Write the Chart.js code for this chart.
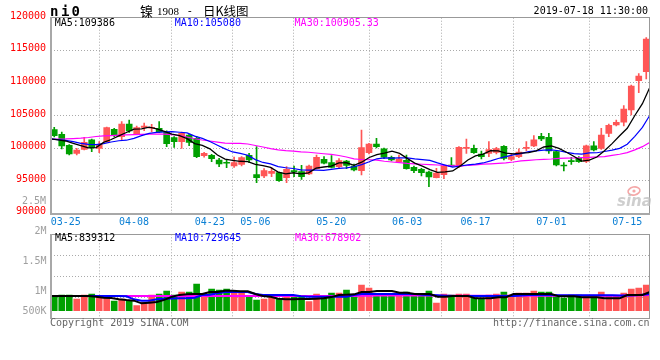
<!DOCTYPE html>
<html><head><meta charset="utf-8">
<script src="https://cdn.jsdelivr.net/npm/chart.js@4"></script>
<style>
html,body{margin:0;padding:0;background:#fff;}
#wrap{position:relative;width:660px;height:360px;overflow:hidden;}
canvas{position:absolute;left:0;top:0;}
</style></head><body>
<div id="wrap"><canvas id="c1" width="660" height="360"></canvas><canvas id="c2" width="660" height="360"></canvas></div>
<script>
// ---------- data ----------
const dates = ["03-21","03-22","03-25","03-26","03-27","03-28","03-29","04-01","04-02","04-03","04-04","04-08","04-09","04-10","04-11","04-12","04-15","04-16","04-17","04-18","04-22","04-23","04-24","04-25","04-26","04-29","04-30","05-06","05-07","05-08","05-09","05-10","05-13","05-14","05-15","05-16","05-17","05-20","05-21","05-22","05-23","05-24","05-27","05-28","05-29","05-30","05-31","06-03","06-04","06-05","06-06","06-10","06-11","06-12","06-13","06-14","06-17","06-18","06-19","06-20","06-21","06-24","06-25","06-26","06-27","06-28","07-01","07-02","07-03","07-04","07-05","07-08","07-09","07-10","07-11","07-12","07-15","07-16","07-17","07-18"];
const openP  = [102830,102110,100430,99200,99810,101250,99970,100990,102880,101760,103700,102220,103190,103040,103030,102420,101600,100990,102010,101500,98840,98890,98180,97770,97260,97510,98890,95930,95720,96130,96230,95470,96540,96390,96030,96850,98280,97770,97160,98020,97260,96540,99300,100630,99870,98590,97870,98130,97050,96750,96340,95470,95930,97410,97160,99970,99970,99100,99200,99350,100270,98280,98690,99970,100330,101810,101650,99460,97410,98080,98430,97970,100330,99970,102270,103550,103960,105850,110350,111720];
const highP  = [103190,102470,100530,99970,101650,101400,100990,103240,103030,104060,104310,103390,103850,103650,104060,102630,101760,102470,102110,101760,99350,99050,98430,98280,98640,98690,99200,100220,96850,97000,96340,97160,97260,97360,97410,98940,98690,98840,98380,98130,97560,102780,100730,101500,100020,98790,98940,98940,97260,96900,96490,96900,97410,98540,100220,101400,100480,99560,100990,100120,100380,99200,99870,100990,101910,102270,102270,99560,97770,98590,98690,100480,100990,103040,103700,104310,106510,109680,111420,116940];
const lowP   = [101700,99860,98940,98940,99710,99460,99300,100890,101760,101250,102420,102060,102680,102520,102370,100220,100120,99970,100380,98530,98590,97920,97150,97000,97050,97260,97770,94700,95470,95620,94900,94700,95620,95210,95930,96750,97560,96950,96900,96850,96490,95880,99100,100020,98380,98020,97770,96750,96230,95720,94090,95420,95310,97160,97050,99200,99200,98330,98690,99100,98180,98080,98540,99610,100220,101140,99200,97260,96490,97510,97820,97770,99560,99810,101760,103390,103390,105080,108500,110600];
const closeP = [101910,100330,99100,99710,100890,100070,100580,103140,101910,103700,102630,103140,103390,103140,102470,100680,100990,102270,100890,98690,99200,98380,97560,97670,97770,98540,98180,95470,96540,96440,95010,96750,96390,95620,97260,98590,97670,97050,98080,97360,96640,100070,100630,100220,98590,98180,98330,96850,96540,96230,95570,96180,97260,97210,100120,100120,99300,98690,99760,99920,98430,98690,99400,100120,101250,101400,99560,97410,97260,97920,97920,100330,99710,102010,103500,103960,106000,109530,111060,116740];
const ma5  = [101400,101250,101090,100730,100390,100020,100070,100880,101320,101880,102390,102900,102950,103200,102950,102560,102130,101910,101460,100700,100410,99890,98940,98300,98120,97980,97940,97520,97300,97030,96330,96040,96220,96040,96200,96920,97100,97240,97730,97750,97360,97840,98560,98990,99230,99540,99190,98430,97700,97230,96710,96280,96360,96490,97270,98180,98800,99090,99600,99560,99220,99100,99240,99310,99580,100170,100350,99950,99370,98710,98010,98170,98630,99580,100690,101900,103040,105000,106810,109386];
const ma10 = [101400,101300,101190,100990,100730,100580,100530,100680,100940,101130,101210,101490,101920,102260,102420,102480,102520,102430,102330,101830,101490,101010,100430,99880,99410,99200,98910,98230,97800,97570,97150,96990,96870,96670,96620,96620,96570,96730,96880,96980,97140,97470,97900,98360,98490,98450,98510,98490,98340,98230,98120,97730,97400,97090,97250,97440,97540,97720,98040,98410,98700,98950,99160,99460,99570,99700,99720,99590,99340,99140,99090,99260,99290,99480,99700,99960,100600,101810,103190,105080];
const ma30 = [101350,101370,101400,101460,101520,101630,101780,101860,101920,101980,102040,102070,102100,102130,102160,102130,102070,101930,101700,101430,101240,101090,100910,100750,100740,100720,100630,100400,100170,99920,99740,99620,99530,99430,99360,99250,99130,99030,98870,98640,98360,98250,98210,98150,97980,97870,97780,97670,97590,97520,97470,97410,97350,97270,97260,97330,97440,97530,97590,97670,97720,97870,98050,98130,98210,98280,98330,98410,98450,98480,98530,98570,98640,98700,98870,99060,99300,99720,100220,100905];
const volume = [700000,785000,785000,585000,785000,830000,700000,665000,485000,585000,485000,250000,415000,785000,830000,985000,785000,935000,935000,1335000,865000,1085000,1035000,1085000,965000,935000,700000,535000,585000,665000,615000,785000,665000,665000,450000,830000,750000,885000,885000,1035000,735000,1285000,1135000,785000,830000,785000,830000,935000,785000,785000,985000,385000,830000,785000,830000,830000,650000,585000,785000,830000,935000,785000,885000,885000,985000,935000,935000,785000,635000,785000,785000,735000,700000,935000,735000,735000,885000,1085000,1135000,1285000];
const volMa5  = [735000,735000,735000,735000,735000,735000,700000,652000,630000,568000,530000,502000,368000,400000,435000,540000,702000,790000,818000,830000,835000,935000,935000,1002000,1002000,968000,968000,835000,735000,702000,600000,568000,568000,585000,585000,600000,618000,680000,785000,800000,818000,933000,933000,983000,983000,983000,900000,900000,833000,833000,833000,700000,700000,733000,733000,733000,617000,617000,617000,667000,667000,833000,833000,833000,833000,833000,833000,717000,717000,717000,667000,667000,667000,617000,617000,617000,783000,783000,783000,933000];
const volMa10 = [735000,735000,735000,735000,735000,735000,735000,735000,735000,735000,720000,568000,502000,502000,568000,600000,610000,618000,618000,650000,785000,800000,870000,935000,935000,935000,935000,835000,785000,785000,785000,785000,785000,720000,702000,702000,702000,702000,702000,702000,785000,835000,835000,835000,835000,835000,835000,835000,835000,800000,785000,770000,750000,735000,735000,735000,735000,735000,735000,735000,735000,735000,760000,785000,785000,785000,785000,770000,770000,770000,770000,770000,770000,770000,770000,760000,760000,770000,800000,835000];
const volMa30 = [735000,735000,735000,735000,735000,735000,735000,735000,735000,735000,735000,735000,735000,735000,735000,735000,735000,735000,735000,735000,735000,735000,735000,735000,735000,735000,735000,735000,735000,735000,735000,735000,735000,735000,735000,735000,735000,735000,735000,735000,740000,745000,750000,755000,760000,760000,760000,760000,760000,760000,755000,750000,750000,750000,750000,750000,750000,750000,750000,750000,750000,750000,750000,750000,750000,750000,750000,750000,750000,750000,750000,750000,750000,750000,750000,750000,755000,760000,770000,785000];
const tickDates = ["03-25","04-08","04-23","05-06","05-20","06-03","06-17","07-01","07-15"];
const volTickLabels = ["2M","1.5M","1M","500K"];
const priceMaText = ["MA5:109386","MA10:105080","MA30:100905.33"];
const volMaText = ["MA5:839312","MA10:729645","MA30:678902"];
const titleParts = ["镍","1908"," - ","日K线图"];
const symbolText = "ni0";
const timeText = "2019-07-18 11:30:00";
const footLeft = "Copyright 2019 SINA.COM";
const footRight = "http://finance.sina.com.cn";
const strayLabel = "2.5M";

// ---------- setup ----------
Chart.defaults.font.family = '"DejaVu Sans Mono", monospace';
Chart.defaults.font.size = 10;
const N = dates.length;
const idx = dates.map((d, i) => i);
const RED = '#ff5656', GREEN = '#00a000';
const colors = idx.map(i => closeP[i] >= openP[i] ? RED : GREEN);
const lineX = i => -0.5 + i * N / (N - 1);          // Sina draws lines/grids on an (N-1) step grid
const tickIdx = tickDates.map(d => dates.indexOf(d));
const GRID = '#aaaaaa';
const MA_COLORS = ['#000000', '#0000ff', '#ff00ff'];
const MONO = '"DejaVu Sans Mono", monospace';

function xScale(showLabels) {
  return {
    type: 'linear', min: -0.5, max: N - 0.5, offset: false,
    afterBuildTicks: s => { s.ticks = tickIdx.map(i => ({ value: lineX(i) })); },
    afterFit: s => { s.height = showLabels ? 16 : 0; },
    grid: { color: GRID, lineWidth: 1, drawTicks: false },
    border: { display: false, dash: [1, 2] },
    ticks: { display: showLabels, autoSkip: false, maxRotation: 0, minRotation: 0, color: '#0a7fd4', padding: 3,
             font: { size: 10, family: MONO }, callback: (v, k) => tickDates[k] }
  };
}
function txt(ctx, s, x, y, color, align, font) {
  ctx.save();
  ctx.font = font || ('10px ' + MONO);
  ctx.fillStyle = color; ctx.textAlign = align || 'left'; ctx.textBaseline = 'middle';
  ctx.fillText(s, x, y);
  ctx.restore();
}
function hline(ctx, x1, x2, y, w, c) { ctx.save(); ctx.strokeStyle = c; ctx.lineWidth = w; ctx.beginPath(); ctx.moveTo(x1, y); ctx.lineTo(x2, y); ctx.stroke(); ctx.restore(); }
function vline(ctx, x, y1, y2, w, c) { ctx.save(); ctx.strokeStyle = c; ctx.lineWidth = w; ctx.beginPath(); ctx.moveTo(x, y1); ctx.lineTo(x, y2); ctx.stroke(); ctx.restore(); }

const priceDeco = {
  id: 'priceDeco',
  afterDraw(chart) {
    const ctx = chart.ctx, a = chart.chartArea;
    hline(ctx, a.left, a.right, 17.5, 1, '#999');
    vline(ctx, 649.5, 17.5, a.bottom, 1, '#999');
    vline(ctx, 51, 17, a.bottom + 1, 2, '#a8a8a8');
    hline(ctx, 50, a.right, 214, 2, '#a8a8a8');
    // header
    const sx = [50, 61, 71.5];
    for (let k = 0; k < symbolText.length; k++) txt(ctx, symbolText[k], sx[k], 12, '#000', 'left', 'bold 14px ' + MONO);
    txt(ctx, titleParts[0], 140, 11.5, '#000', 'left', '13px "Noto Sans CJK SC"');
    txt(ctx, titleParts[1], 157, 12, '#000', 'left', '11px "Liberation Serif"');
    txt(ctx, titleParts[2], 180, 11.5, '#000', 'left', '11px ' + MONO);
    txt(ctx, titleParts[3], 203, 11.5, '#000', 'left', '12.5px "Noto Sans CJK SC"');
    txt(ctx, timeText, 648, 11.7, '#000', 'right');
    const mx = [54.7, 174.7, 294.6];
    priceMaText.forEach((s, k) => txt(ctx, s, mx[k], 23.7, MA_COLORS[k]));
    txt(ctx, strayLabel, 46, 201, '#a0a0a0', 'right');
    // watermark
    ctx.save();
    ctx.globalAlpha = 0.75;
    ctx.strokeStyle = '#f08a8a'; ctx.lineWidth = 1.6;
    ctx.beginPath(); ctx.ellipse(634, 191, 6, 4, -0.2, 0, Math.PI * 2); ctx.stroke();
    ctx.fillStyle = '#f08a8a'; ctx.beginPath(); ctx.arc(634, 191, 1.6, 0, Math.PI * 2); ctx.fill();
    ctx.font = 'italic bold 15px "DejaVu Sans"'; ctx.fillStyle = '#bdbdbd'; ctx.textBaseline = 'alphabetic';
    ctx.fillText('sina', 617, 206);
    ctx.restore();
  }
};
const volDeco = {
  id: 'volDeco',
  afterDraw(chart) {
    const ctx = chart.ctx, a = chart.chartArea;
    hline(ctx, a.left, a.right, 234.5, 1, '#999');
    hline(ctx, a.left, a.right, 318.5, 1, '#999');
    vline(ctx, 649.5, 234.5, 318.5, 1, '#999');
    vline(ctx, 51, 234, 319, 2, '#a8a8a8');
    const ly = [231, 261, 291, 311];
    volTickLabels.forEach((s, k) => txt(ctx, s, 46.5, ly[k], '#a0a0a0', 'right'));
    const mx = [55, 175, 295];
    volMaText.forEach((s, k) => txt(ctx, s, mx[k], 238.5, MA_COLORS[k]));
    txt(ctx, footLeft, 50, 323.7, '#666');
    txt(ctx, footRight, 649.5, 323.5, '#666', 'right');
  }
};
function lineDs(arr, color, w, order) {
  return { type: 'line', data: idx.map(i => ({ x: lineX(i), y: arr[i] })), borderColor: color, borderWidth: w,
           pointRadius: 0, tension: 0, fill: false, order };
}
const common = { responsive: false, animation: false, events: [], devicePixelRatio: 1,
  plugins: { legend: { display: false }, tooltip: { enabled: false } } };

new Chart(document.getElementById('c1'), {
  type: 'bar',
  data: { datasets: [
    lineDs(ma5, MA_COLORS[0], 1.3, 0),
    lineDs(ma10, MA_COLORS[1], 1.2, 1),
    lineDs(ma30, MA_COLORS[2], 1.2, 2),
    { type: 'bar', data: idx.map(i => ({ x: i, y: [Math.min(openP[i], closeP[i]), Math.max(openP[i], closeP[i])] })),
      backgroundColor: colors, barThickness: 6, grouped: false, minBarLength: 1, order: 3 },
    { type: 'bar', data: idx.map(i => ({ x: i, y: [lowP[i], highP[i]] })),
      backgroundColor: colors, barThickness: 1, grouped: false, order: 4 }
  ]},
  options: { ...common,
    layout: { padding: { top: 17.7, bottom: 360 - 213.3 - 16, left: 0, right: 10 } },
    scales: {
      x: xScale(true),
      y: { type: 'linear', min: 90000, max: 120000,
           afterFit: s => { s.width = 50.5; },
           ticks: { stepSize: 5000, color: '#ff0000', padding: 4.5, labelOffset: -1.5, font: { size: 10, family: MONO },
                    callback: v => String(v) },
           grid: { color: GRID, lineWidth: 1, drawTicks: false },
           border: { display: false, dash: [1, 2] } }
    }
  },
  plugins: [priceDeco]
});

const VMIN = -380000, VMAX = 3820000;
new Chart(document.getElementById('c2'), {
  type: 'bar',
  data: { datasets: [
    lineDs(volMa5, MA_COLORS[0], 2, 0),
    lineDs(volMa10, MA_COLORS[1], 2, 1),
    lineDs(volMa30, MA_COLORS[2], 2, 2),
    { type: 'bar', data: idx.map(i => ({ x: i, y: volume[i] })), backgroundColor: colors, barThickness: 6, grouped: false, order: 3 }
  ]},
  options: { ...common,
    layout: { padding: { top: 234.3, bottom: 360 - 318.3, left: 0, right: 10 } },
    scales: {
      x: xScale(false),
      y: { type: 'linear', min: VMIN, max: VMAX,
           afterBuildTicks: s => { s.ticks = [0, 1, 2, 3, 4].map(k => ({ value: VMIN + k * (VMAX - VMIN) / 4 })); },
           afterFit: s => { s.width = 50.5; },
           ticks: { display: false },
           grid: { color: GRID, lineWidth: 1, drawTicks: false },
           border: { display: false, dash: [1, 2] } }
    }
  },
  plugins: [volDeco]
});
</script>
</body></html>
